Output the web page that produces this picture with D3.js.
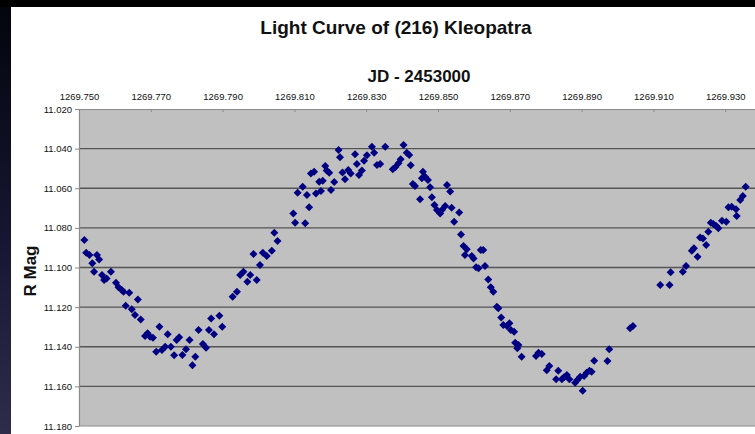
<!DOCTYPE html>
<html>
<head>
<meta charset="utf-8">
<script src="https://cdn.jsdelivr.net/npm/d3@7"></script>
<style>
  html, body { margin: 0; padding: 0; background: #000; overflow: hidden; }
  svg { display: block; font-family: "Liberation Sans", Arial, sans-serif; }
</style>
</head>
<body>
<script>
// JD - 2453000
const jd = [
  1269.7515, 1269.7520, 1269.7529, 1269.7537, 1269.7550, 1269.7556, 1269.7542, 1269.7564, 1269.7570, 1269.7577,
  1269.7589, 1269.7603, 1269.7610, 1269.7619, 1269.7624, 1269.7640, 1269.7630, 1269.7647, 1269.7656, 1269.7664,
  1269.7672, 1269.7684, 1269.7691, 1269.7698, 1269.7706, 1269.7715, 1269.7724, 1269.7731, 1269.7740, 1269.7747,
  1269.7756, 1269.7765, 1269.7772, 1269.7779, 1269.7788, 1269.7798, 1269.7808, 1269.7816, 1269.7824, 1269.7833,
  1269.7845, 1269.7854, 1269.7862, 1269.7868, 1269.7876, 1269.7891, 1269.7899, 1269.7928, 1269.7940, 1269.7949,
  1269.7958, 1269.7969, 1269.7977, 1269.7995,
  1269.7986, 1269.8004, 1269.8012, 1269.8023, 1269.8037, 1269.8044, 1269.8053, 1269.8097, 1269.8102, 1269.8109,
  1269.8123, 1269.8130, 1269.8135, 1269.8141, 1269.8146, 1269.8155, 1269.8160, 1269.8169, 1269.8174, 1269.8179,
  1269.8186, 1269.8190, 1269.8197, 1269.8202, 1269.8211, 1269.8223, 1269.8227, 1269.8234, 1269.8241, 1269.8250,
  1269.8257, 1269.8269, 1269.8274, 1269.8280, 1269.8288, 1269.8294, 1269.8302, 1269.8316, 1269.8322, 1269.8330,
  1269.8339, 1269.8353, 1269.8374, 1269.8381, 1269.8390, 1269.8396, 1269.8404, 1269.8413, 1269.8420, 1269.8424,
  1269.8430, 1269.8436, 1269.8450, 1269.8455, 1269.8458, 1269.8464, 1269.8472, 1269.8478, 1269.8483, 1269.8490,
  1269.8497, 1269.8506, 1269.8511,
  1269.8520, 1269.8525, 1269.8534, 1269.8538, 1269.8545, 1269.8559, 1269.8564, 1269.8571, 1269.8580, 1269.8575,
  1269.8594, 1269.8599, 1269.8606, 1269.8613, 1269.8619, 1269.8626, 1269.8631, 1269.8640, 1269.8647, 1269.8654,
  1269.8664, 1269.8668, 1269.8676, 1269.8682, 1269.8692, 1269.8699, 1269.8703, 1269.8712, 1269.8715, 1269.8724,
  1269.8721, 1269.8733, 1269.8773, 1269.8780, 1269.8789, 1269.8803, 1269.8810, 1269.8829, 1269.8835, 1269.8845,
  1269.8851, 1269.8859, 1269.8866, 1269.8882, 1269.8888, 1269.8896, 1269.8903, 1269.8907, 1269.8914, 1269.8922,
  1269.8928, 1269.8935, 1269.8972, 1269.8977, 1269.9035, 1269.9043,
  1269.9119, 1269.9145, 1269.9148, 1269.9182, 1269.9191, 1269.9207, 1269.9213, 1269.9223, 1269.9230, 1269.9238,
  1269.9247, 1269.9253, 1269.9260, 1269.9267, 1269.9275, 1269.9281, 1269.9291, 1269.9303, 1269.9309, 1269.9318,
  1269.9330, 1269.9332, 1269.9342, 1269.9349, 1269.9357
];

const rMag = [
  11.0861, 11.0925, 11.0937, 11.0979, 11.0937, 11.0959, 11.1021, 11.1038, 11.1063, 11.1055,
  11.1021, 11.1077, 11.1100, 11.1114, 11.1122, 11.1127, 11.1193, 11.1211, 11.1240, 11.1161,
  11.1262, 11.1346, 11.1332, 11.1349, 11.1354, 11.1425, 11.1299, 11.1417, 11.1400, 11.1337,
  11.1400, 11.1443, 11.1366, 11.1352, 11.1442, 11.1413, 11.1366, 11.1494, 11.1450, 11.1316,
  11.1386, 11.1405, 11.1316, 11.1257, 11.1337, 11.1243, 11.1299, 11.1148, 11.1122, 11.1038,
  11.1021, 11.1072, 11.1038, 11.1063,
  11.0932, 11.0987, 11.0925, 11.0942, 11.0915, 11.0824, 11.0866, 11.0727, 11.0774, 11.0623,
  11.0592, 11.0777, 11.0634, 11.0696, 11.0525, 11.0517, 11.0626, 11.0567, 11.0614, 11.0562,
  11.0488, 11.0511, 11.0522, 11.0609, 11.0569, 11.0407, 11.0444, 11.0520, 11.0555, 11.0508,
  11.0525, 11.0429, 11.0478, 11.0533, 11.0511, 11.0461, 11.0434, 11.0390, 11.0421, 11.0483,
  11.0478, 11.0390, 11.0504, 11.0494, 11.0474, 11.0454, 11.0382, 11.0421, 11.0432, 11.0484,
  11.0579, 11.0589, 11.0656, 11.0550, 11.0517, 11.0542, 11.0558, 11.0595, 11.0646, 11.0685,
  11.0710, 11.0727, 11.0710,
  11.0690, 11.0584, 11.0617, 11.0698, 11.0769, 11.0723, 11.0833, 11.0892, 11.0908, 11.0937,
  11.0942, 11.0954, 11.0999, 11.1004, 11.0912, 11.0912, 11.0993, 11.1060, 11.1100, 11.1122,
  11.1198, 11.1206, 11.1252, 11.1290, 11.1295, 11.1282, 11.1316, 11.1324, 11.1380, 11.1391,
  11.1408, 11.1450, 11.1447, 11.1430, 11.1437, 11.1518, 11.1497, 11.1564, 11.1521, 11.1564,
  11.1554, 11.1543, 11.1564, 11.1582, 11.1568, 11.1551, 11.1622, 11.1548, 11.1531, 11.1521,
  11.1526, 11.1471, 11.1472, 11.1413, 11.1307, 11.1295,
  11.1088, 11.1088, 11.1024, 11.1021, 11.0993, 11.0915, 11.0903, 11.0946, 11.0848, 11.0853,
  11.0887, 11.0819, 11.0774, 11.0781, 11.0791, 11.0802, 11.0764, 11.0769, 11.0696, 11.0693,
  11.0706, 11.0740, 11.0659, 11.0639, 11.0592
];

const xTicks = [1269.750, 1269.770, 1269.790, 1269.810, 1269.830, 1269.850, 1269.870, 1269.890, 1269.910, 1269.930];
const yTicks = [11.020, 11.040, 11.060, 11.080, 11.100, 11.120, 11.140, 11.160, 11.180];

const chartTitle = "Light Curve of (216) Kleopatra";
const xTitle = "JD - 2453000";
const yTitle = "R Mag";

const W = 755, H = 434;
const plot = { left: 79, top: 109, right: 797, bottom: 426 }; // right side runs off the slide

const svg = d3.select("body").append("svg")
  .attr("width", W)
  .attr("height", H);

// slide background: dark gradient with the white chart pasted on it
const grad = svg.append("defs").append("linearGradient")
  .attr("id", "bg").attr("x1", 0).attr("y1", 0).attr("x2", 0).attr("y2", 1);
grad.append("stop").attr("offset", "0%").attr("stop-color", "#04040c");
grad.append("stop").attr("offset", "55%").attr("stop-color", "#161632");
grad.append("stop").attr("offset", "100%").attr("stop-color", "#2e2c4a");

svg.append("rect").attr("width", W).attr("height", H).attr("fill", "url(#bg)");
svg.append("rect").attr("width", W).attr("height", 7).attr("fill", "#000");
svg.append("rect").attr("x", 11).attr("y", 7).attr("width", W - 11).attr("height", H - 7).attr("fill", "#fff");

const x = d3.scaleLinear().domain([1269.75, 1269.95]).range([plot.left, plot.right]);
const y = d3.scaleLinear().domain([11.02, 11.18]).range([plot.top, plot.bottom]);

svg.append("rect")
  .attr("x", plot.left).attr("y", plot.top)
  .attr("width", plot.right - plot.left).attr("height", plot.bottom - plot.top)
  .attr("fill", "#c0c0c0");

// horizontal gridlines
svg.append("g")
  .selectAll("line")
  .data(yTicks.slice(1, -1))
  .join("line")
  .attr("x1", plot.left).attr("x2", plot.right)
  .attr("y1", d => y(d)).attr("y2", d => y(d))
  .attr("stroke", "#555")
  .attr("stroke-width", 1.3);

// bottom border
svg.append("line")
  .attr("x1", plot.left).attr("x2", plot.right)
  .attr("y1", plot.bottom).attr("y2", plot.bottom)
  .attr("stroke", "#8a8a8a").attr("stroke-width", 1.2);

const xAxis = svg.append("g")
  .attr("transform", `translate(0,${plot.top})`)
  .call(d3.axisTop(x).tickValues(xTicks).tickFormat(d3.format(".3f")).tickSizeInner(-3).tickSizeOuter(0).tickPadding(9));

const yAxis = svg.append("g")
  .attr("transform", `translate(${plot.left},0)`)
  .call(d3.axisLeft(y).tickValues(yTicks).tickFormat(d3.format(".3f")).tickSizeInner(4).tickSizeOuter(0).tickPadding(3));

[xAxis, yAxis].forEach(a => {
  a.select(".domain").attr("stroke", "#8a8a8a").attr("stroke-width", 1.2);
  a.selectAll(".tick line").attr("stroke", "#8a8a8a");
  a.selectAll(".tick text")
    .attr("fill", "#111")
    .style("font-size", "9.5px")
    .style("font-family", "'Liberation Sans', Arial, sans-serif");
});

// data points, Excel style diamonds
const pts = jd.map((d, i) => ({ x: d, y: rMag[i] }));
svg.append("g")
  .selectAll("path")
  .data(pts)
  .join("path")
  .attr("d", d3.symbol(d3.symbolSquare, 32))
  .attr("transform", d => `translate(${x(d.x)},${y(d.y)}) rotate(45)`)
  .attr("fill", "#000080");

svg.append("text")
  .attr("x", 396).attr("y", 34)
  .attr("text-anchor", "middle")
  .style("font-size", "19px").style("font-weight", "bold")
  .attr("fill", "#111")
  .text(chartTitle);

svg.append("text")
  .attr("x", 419).attr("y", 82)
  .attr("text-anchor", "middle")
  .style("font-size", "17px").style("font-weight", "bold")
  .attr("fill", "#111")
  .text(xTitle);

svg.append("text")
  .attr("transform", "translate(36,271) rotate(-90)")
  .attr("text-anchor", "middle")
  .style("font-size", "17px").style("font-weight", "bold")
  .attr("fill", "#111")
  .text(yTitle);
</script>
</body>
</html>
